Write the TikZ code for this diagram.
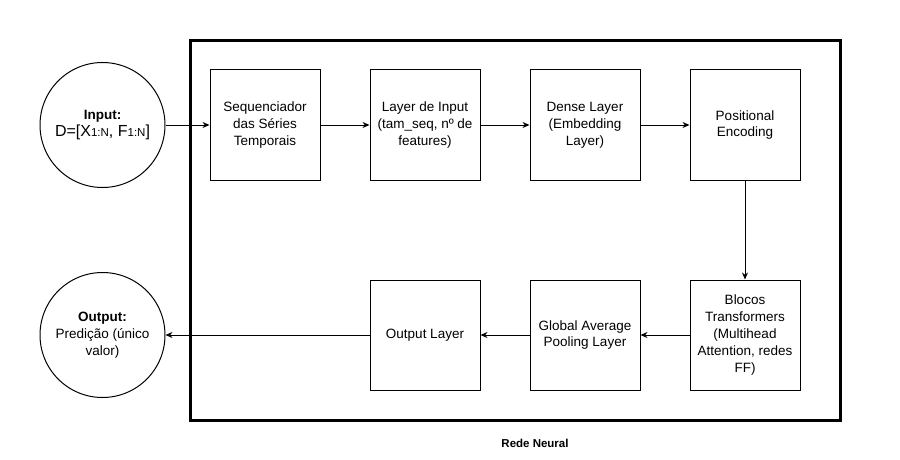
\documentclass[tikz,border=0pt]{standalone}
\usepackage{fontspec}
\setmainfont{Liberation Sans}
\usetikzlibrary{arrows.meta}
\tikzset{>={Stealth[length=7pt,width=6pt]}}
\tikzset{%
    layer/.style={draw, line width=1pt, minimum width=110pt, minimum height=110pt,
        inner sep=0pt, align=center, font=\fontsize{13.5}{16.8}\selectfont},
    terminal/.style={draw, circle, line width=1pt, minimum size=125pt,
        inner sep=0pt, align=center, font=\fontsize{13.5}{16.8}\selectfont},
    flow/.style={->, line width=1pt}
}
\newcommand{\subidx}[1]{{\fontsize{11.5}{12}\selectfont #1}}

\begin{document}
\begin{tikzpicture}[x=1pt,y=-1pt]
    \useasboundingbox (0,0) rectangle (900,460);
    % moldura da rede
    \draw[line width=3pt] (190,41) rectangle (840,420);
    \node[font=\bfseries\fontsize{11.5}{13}\selectfont] (rede) at (535,443) {Rede Neural};
    % entrada e saida
    \node[terminal] (entrada) at (102.5,125) {\textbf{Input:}\\{\fontsize{16}{18}\selectfont D=[X\subidx{1:N}, F\subidx{1:N}]}};
    \node[terminal] (saida) at (102.5,335) {\textbf{Output:}\\Predição (único\\valor)};
    % camadas
    \node[layer] (seq) at (265,125) {Sequenciador\\das Séries\\Temporais};
    \node[layer] (inlayer) at (425,125) {Layer de Input\\(tam\_seq, nº de\\features)};
    \node[layer] (dense) at (585,125) {Dense Layer\\(Embedding\\Layer)};
    \node[layer] (posenc) at (745,125) {Positional\\Encoding};
    \node[layer] (blocos) at (745,335) {Blocos\\Transformers\\(Multihead\\Attention, redes\\FF)};
    \node[layer] (gap) at (585,335) {Global Average\\Pooling Layer};
    \node[layer] (outlayer) at (425,335) {Output Layer};
    % ligacoes
    \draw[flow] (entrada) -- (seq);
    \draw[flow] (seq) -- (inlayer);
    \draw[flow] (inlayer) -- (dense);
    \draw[flow] (dense) -- (posenc);
    \draw[flow] (posenc) -- (blocos);
    \draw[flow] (blocos) -- (gap);
    \draw[flow] (gap) -- (outlayer);
    \draw[flow] (outlayer) -- (saida);
\end{tikzpicture}
\end{document}
